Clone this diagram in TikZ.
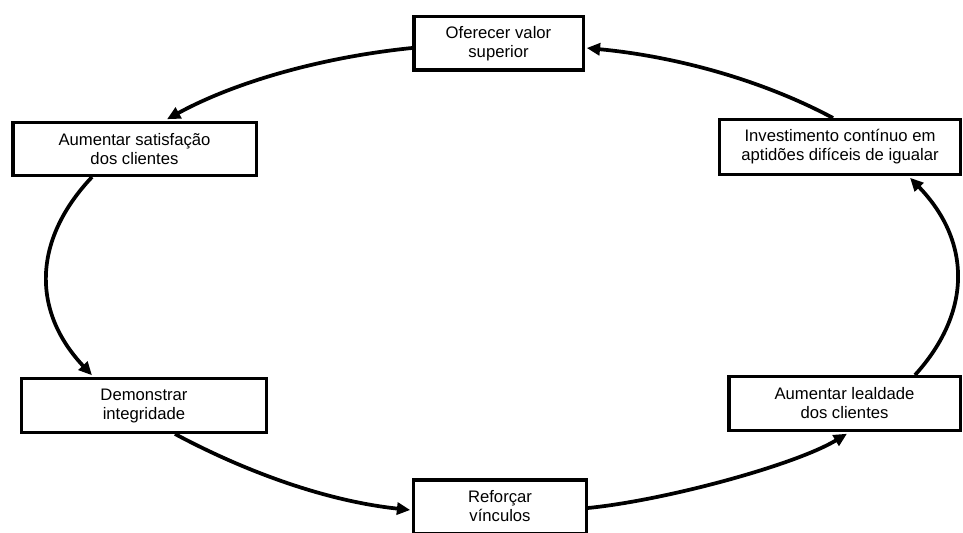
\documentclass[tikz,border=0pt]{standalone}
\usepackage{fontspec}
\setmainfont{Liberation Sans}
\usetikzlibrary{arrows.meta,calc}
\begin{document}
\begin{tikzpicture}[x=0.75pt,y=0.75pt,
  box/.style={draw=black, line width=2.6pt, fill=white, inner sep=0pt,
    align=center, minimum height=40.1pt,
    font=\fontsize{12.5}{14.25}\selectfont},
  flow/.style={line width=2.8pt, -{Triangle[length=10pt,width=9pt]}}]
\useasboundingbox (0,0) rectangle (963,532);

% the six stages of the cycle
\node[box, minimum width=127.1pt] (T)  at (498.5,488.5) {Oferecer valor\\superior};
\node[box, minimum width=182.6pt, minimum height=39.4pt] (LT) at (134.5,383) {Aumentar satisfação\\dos clientes};
\node[box, minimum width=180.4pt, minimum height=40.9pt] (RT) at (840,385) {Investimento contínuo em\\aptidões difíceis de igualar};
\node[box, minimum width=183.4pt] (LB) at (144,126.5) {Demonstrar\\integridade};
\node[box, minimum width=173.6pt] (RB) at (844.5,128.5) {Aumentar lealdade\\dos clientes};
\node[box, minimum width=129.4pt] (B)  at (500,25.5) {Reforçar\\vínculos};

% connectors follow one large ellipse round the cycle
\draw[flow] ($(RT.north)+(-7,0)$)
  .. controls +(-66.2,35.5) and +(94.8,-9.0) .. ($(T.east)+(1.75,-4.5)$);
\draw[flow] ($(T.west)+(0,-4.5)$)
  .. controls +(-94.1,-9.6) and +(65,35.7) .. ($(LT.north)+(32.5,1.75)$);
\draw[flow] ($(LT.south)+(-42.5,0)$)
  .. controls +(-60,-63.6) and +(-60,63.6) .. ($(LB.north)+(-52,1.75)$);
\draw[flow] ($(LB.south)+(31,0)$)
  .. controls +(63.6,-34.1) and +(-89.6,9.6) .. ($(B.west)+(-1.75,-3.5)$);
\draw[flow] ($(B.east)+(0,-1.5)$)
  .. controls +(77.9,7.8) and +(-51.7,-31.2) .. ($(RB.south)+(2.5,-1.75)$);
\draw[flow] ($(RB.north)+(70.5,0)$)
  .. controls +(57.7,63.7) and +(60.9,-62.9) .. ($(RT.south)+(70,-1.75)$);
\end{tikzpicture}
\end{document}
